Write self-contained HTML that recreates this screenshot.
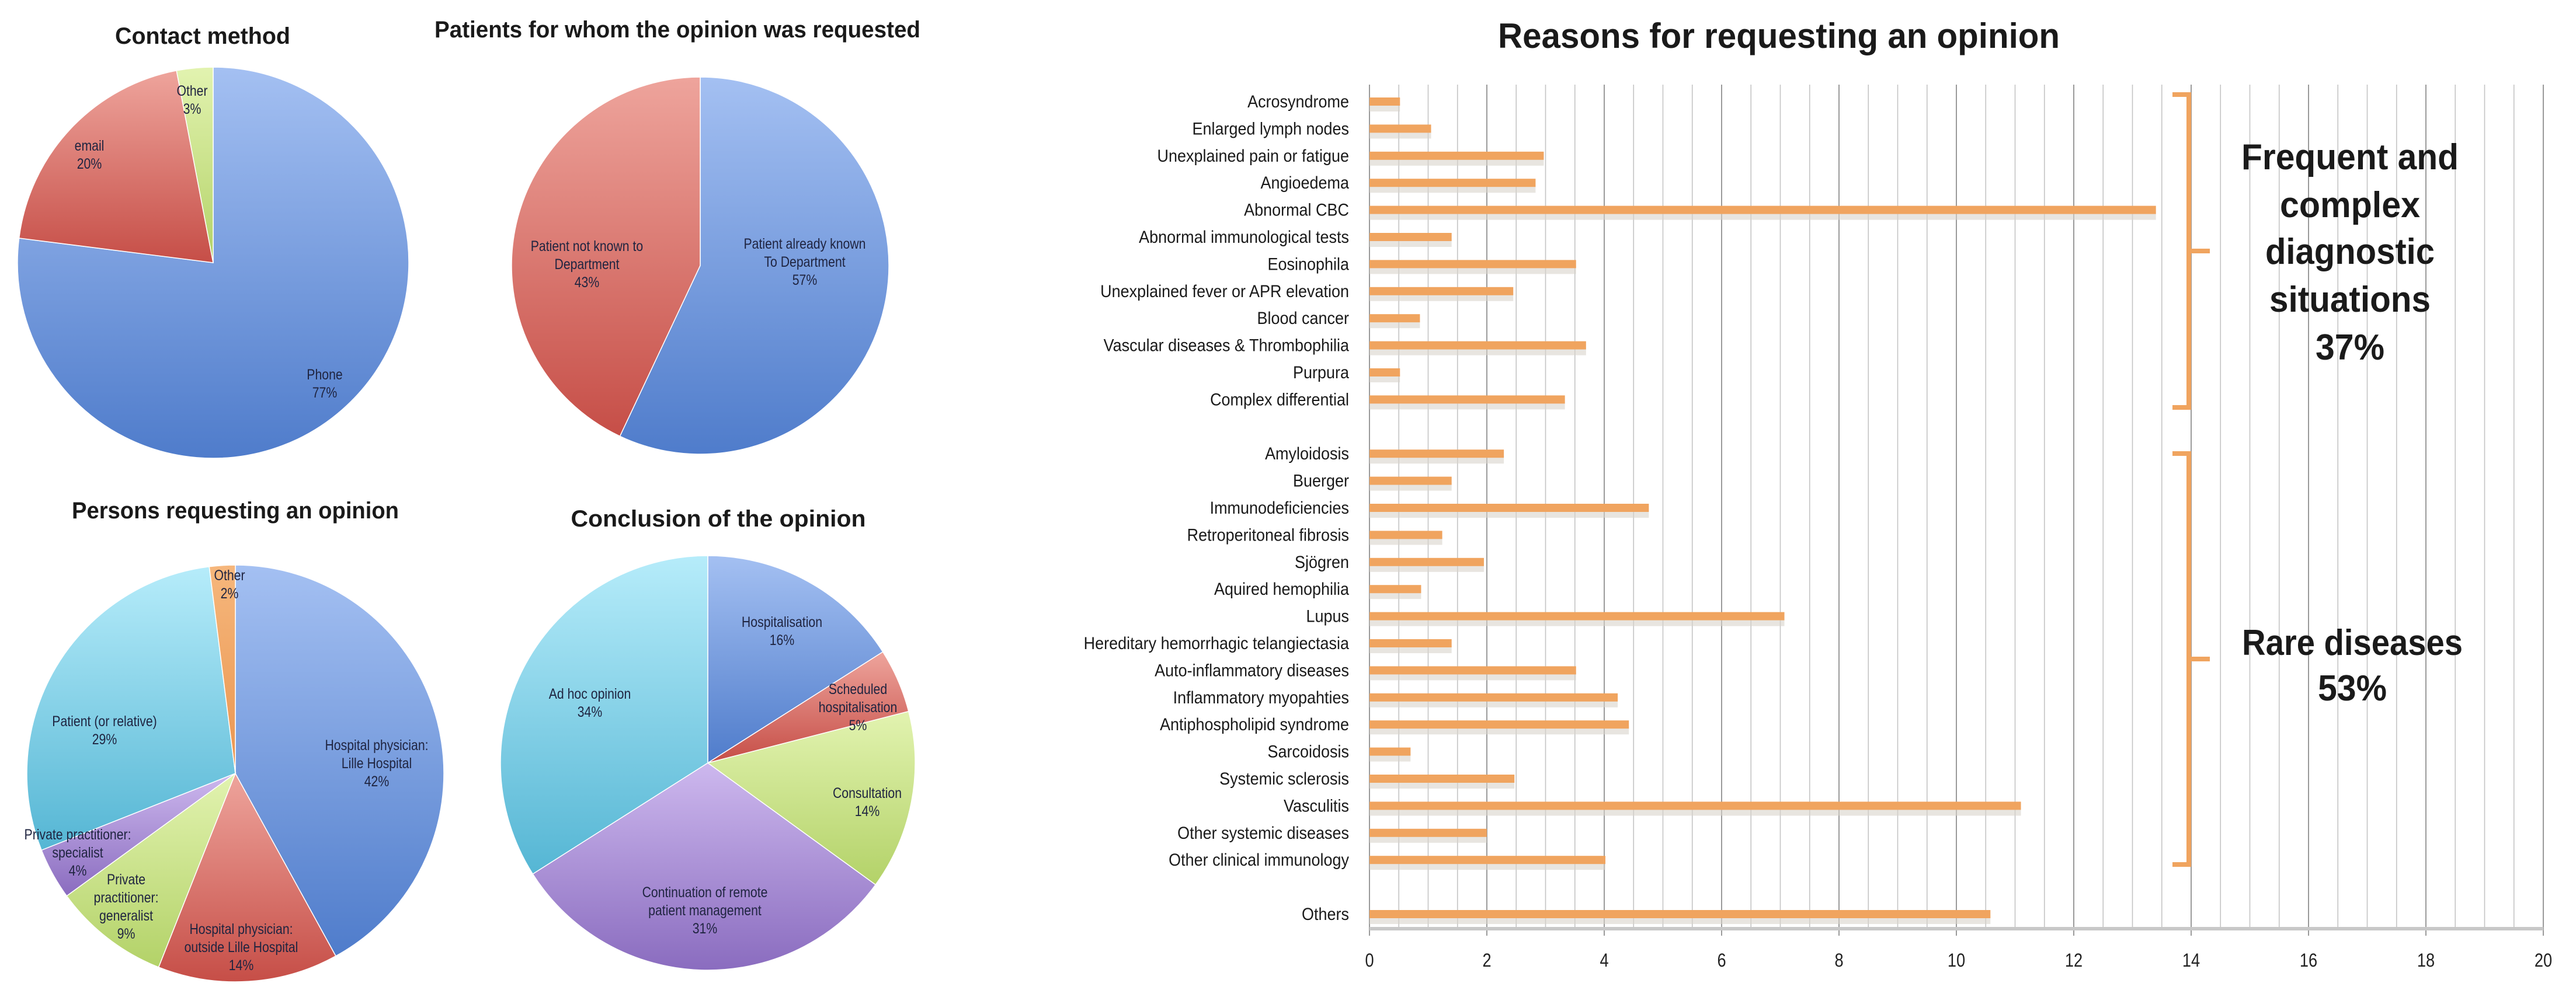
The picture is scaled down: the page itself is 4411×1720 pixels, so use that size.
<!DOCTYPE html>
<html><head><meta charset="utf-8"><style>
html,body{margin:0;padding:0;background:#fff;}
svg{display:block;font-family:"Liberation Sans",sans-serif;}
</style></head><body>
<svg id="fig" width="4411" height="1720" viewBox="0 0 4411 1720" xmlns="http://www.w3.org/2000/svg">
<defs>
<linearGradient id="gBlue" x1="0" y1="0" x2="0" y2="1"><stop offset="0" stop-color="#a4c0f2"/><stop offset="1" stop-color="#4f7ccb"/></linearGradient>
<linearGradient id="gRed" x1="0" y1="0" x2="0" y2="1"><stop offset="0" stop-color="#eea49c"/><stop offset="1" stop-color="#c64e47"/></linearGradient>
<linearGradient id="gGreen" x1="0" y1="0" x2="0" y2="1"><stop offset="0" stop-color="#e2f3b0"/><stop offset="1" stop-color="#b3d268"/></linearGradient>
<linearGradient id="gPurple" x1="0" y1="0" x2="0" y2="1"><stop offset="0" stop-color="#cdb8ee"/><stop offset="1" stop-color="#8a6cbf"/></linearGradient>
<linearGradient id="gCyan" x1="0" y1="0" x2="0" y2="1"><stop offset="0" stop-color="#b6ecfa"/><stop offset="1" stop-color="#55b6d4"/></linearGradient>
<linearGradient id="gOrange" x1="0" y1="0" x2="0" y2="1"><stop offset="0" stop-color="#f6b77c"/><stop offset="1" stop-color="#ea9550"/></linearGradient>
</defs>
<g id="pies"></g>
<g id="bars"></g>
</svg>
<script>
// ---------- Pie data ----------
const contactLabels = ["Phone", "email", "Other"];
const contactValues = [77, 20, 3];
const knownLabels = ["Patient already known To Department", "Patient not known to Department"];
const knownValues = [57, 43];
const personLabels = ["Hospital physician: Lille Hospital", "Hospital physician: outside Lille Hospital", "Private practitioner: generalist", "Private practitioner: specialist", "Patient (or relative)", "Other"];
const personValues = [42, 14, 9, 4, 29, 2];
const conclusionLabels = ["Hospitalisation", "Scheduled hospitalisation", "Consultation", "Continuation of remote patient management", "Ad hoc opinion"];
const conclusionValues = [16, 5, 14, 31, 34];

// ---------- Bar data ----------
const reasonCategories = ["Acrosyndrome","Enlarged lymph nodes","Unexplained pain or fatigue","Angioedema","Abnormal CBC","Abnormal immunological tests","Eosinophila","Unexplained fever or APR elevation","Blood cancer","Vascular diseases & Thrombophilia","Purpura","Complex differential","","Amyloidosis","Buerger","Immunodeficiencies","Retroperitoneal fibrosis","Sjögren","Aquired hemophilia","Lupus","Hereditary hemorrhagic telangiectasia","Auto-inflammatory diseases","Inflammatory myopahties","Antiphospholipid syndrome","Sarcoidosis","Systemic sclerosis","Vasculitis","Other systemic diseases","Other clinical immunology","","Others"];
const reasonValues = [0.52,1.05,2.97,2.83,13.4,1.4,3.52,2.45,0.86,3.69,0.52,3.33,null,2.29,1.4,4.76,1.24,1.95,0.88,7.07,1.4,3.52,4.23,4.42,0.7,2.47,11.1,2.0,4.02,null,10.58];
const xTicks = [0,2,4,6,8,10,12,14,16,18,20];

const NS = "http://www.w3.org/2000/svg";
function mk(tag, attrs, parent){const e=document.createElementNS(NS,tag);for(const k in attrs)e.setAttribute(k,attrs[k]);parent.appendChild(e);return e;}
function txt(parent,x,y,s,size,opts){
  opts=opts||{};
  const t=mk("text",{x:x,y:y,"font-size":size,"text-anchor":opts.anchor||"middle",fill:opts.fill||"#1a1a1a","font-weight":opts.bold?"bold":"normal"},parent);
  if(opts.len){t.setAttribute("textLength",opts.len);t.setAttribute("lengthAdjust","spacingAndGlyphs");}
  t.textContent=s;return t;
}

const pies=document.getElementById("pies");
function drawPie(name,cx,cy,r,values,fills){
  const g=mk("g",{},pies);
  
  
  const total=values.reduce((a,b)=>a+b,0);
  let a0=-Math.PI/2;
  values.forEach((v,i)=>{
    const a1=a0+v/total*2*Math.PI;
    const large=(a1-a0)>Math.PI?1:0;
    const x0=cx+r*Math.cos(a0),y0=cy+r*Math.sin(a0),x1=cx+r*Math.cos(a1),y1=cy+r*Math.sin(a1);
    const p=mk("path",{d:`M${cx},${cy} L${x0},${y0} A${r},${r} 0 ${large} 1 ${x1},${y1} Z`,fill:fills[i],stroke:"#fff","stroke-width":1.5},g);
    
    
    a0=a1;
  });
  return g;
}
function lbl(parent,name,x,y,lines,size){
  const g=mk("g",{},parent);
  
  
  lines.forEach((s,i)=>{
    const t=mk("text",{x:0,y:0,"font-size":size||25,"text-anchor":"middle",fill:"#1f2440",transform:`translate(${x},${y+i*31}) scale(0.85,1)`},g);
    t.textContent=s;
  });
}
function title(name,x,y,s,len,size){
  const t=txt(pies,x,y,s,size||40,{bold:true,len:len});
  
  
}

// Pie 1
title("contact-method-title",347,75,"Contact method",300);
drawPie("contact-method-pie",365,450,335,contactValues,["url(#gBlue)","url(#gRed)","url(#gGreen)"]);
lbl(pies,"label-phone",556,650,["Phone",contactValues[0]+"%"]);
lbl(pies,"label-email",153,258,["email",contactValues[1]+"%"]);
lbl(pies,"label-contact-other",329,164,["Other",contactValues[2]+"%"]);
// Pie 2
title("patients-title",1160,64,"Patients for whom the opinion was requested",832);
drawPie("patient-known-pie",1199,455,323,knownValues,["url(#gBlue)","url(#gRed)"]);
lbl(pies,"label-known",1378,426,["Patient already known","To Department",knownValues[0]+"%"]);
lbl(pies,"label-not-known",1005,430,["Patient not known to","Department",knownValues[1]+"%"]);
// Pie 3
title("persons-title",403,888,"Persons requesting an opinion",560);
drawPie("persons-pie",403,1325,357,personValues,["url(#gBlue)","url(#gRed)","url(#gGreen)","url(#gPurple)","url(#gCyan)","url(#gOrange)"]);
lbl(pies,"label-lille",645,1285,["Hospital physician:","Lille Hospital",personValues[0]+"%"]);
lbl(pies,"label-outside",413,1600,["Hospital physician:","outside Lille Hospital",personValues[1]+"%"]);
lbl(pies,"label-generalist",216,1515,["Private","practitioner:","generalist",personValues[2]+"%"]);
lbl(pies,"label-specialist",133,1438,["Private practitioner:","specialist",personValues[3]+"%"]);
lbl(pies,"label-patient",179,1244,["Patient (or relative)",personValues[4]+"%"]);
lbl(pies,"label-person-other",393,994,["Other",personValues[5]+"%"]);
// Pie 4
title("conclusion-title",1230,902,"Conclusion of the opinion",505);
drawPie("conclusion-pie",1212,1307,355,conclusionValues,["url(#gBlue)","url(#gRed)","url(#gGreen)","url(#gPurple)","url(#gCyan)"]);
lbl(pies,"label-hospitalisation",1339,1074,["Hospitalisation",conclusionValues[0]+"%"]);
lbl(pies,"label-scheduled",1469,1189,["Scheduled","hospitalisation",conclusionValues[1]+"%"]);
lbl(pies,"label-consultation",1485,1367,["Consultation",conclusionValues[2]+"%"]);
lbl(pies,"label-continuation",1207,1537,["Continuation of remote","patient management",conclusionValues[3]+"%"]);
lbl(pies,"label-adhoc",1010,1197,["Ad hoc opinion",conclusionValues[4]+"%"]);

// ---------- Bar chart ----------
const bars=document.getElementById("bars");
const X0=2345, X1=4355, XMAX=20, YTOP=145, YBOT=1591, ROW0=174, ROWH=46.4;
const xs=v=>X0+(v/XMAX)*(X1-X0);
const ys=i=>ROW0+i*ROWH;

const bt=txt(bars,3046,82,"Reasons for requesting an opinion",60,{bold:true,len:962});



const grid=mk("g",{},bars);


for(let v=0; v<=XMAX+1e-9; v+=0.5){
  const major=Math.abs(v-Math.round(v/2)*2)<1e-9;
  const l=mk("line",{x1:xs(v),x2:xs(v),y1:YTOP,y2:major?YBOT+12:YBOT,stroke:major?"#9a9a9a":"#c4c4c4","stroke-width":major?2:1.6},grid);
  
  
}
const ax=mk("line",{x1:X0,x2:X1,y1:YBOT,y2:YBOT,stroke:"#c8c8c8","stroke-width":6},bars);



xTicks.forEach(v=>{
  const t=mk("text",{x:0,y:0,"font-size":32,"text-anchor":"middle",fill:"#222",transform:`translate(${xs(v)},1656) scale(0.85,1)`},bars);
  
  
  t.textContent=v;
});

reasonCategories.forEach((c,i)=>{
  const v=reasonValues[i];
  if(c){
    const t=mk("text",{x:0,y:0,"font-size":30,"text-anchor":"end",fill:"#1a1a1a",transform:`translate(2310,${ys(i)+10}) scale(0.9,1)`},bars);
    
    
    t.textContent=c;
  }
  if(v!=null){
    const sh=mk("rect",{x:X0,y:ys(i)+3,width:xs(v)-X0,height:14,fill:"#d9d4cc",opacity:0.6},bars);
    
    
    const r=mk("rect",{x:X0,y:ys(i)-7,width:xs(v)-X0,height:14,fill:"#f0a45f"},bars);
    
    
  }
});

// brackets
function bracket(name,top,bot,mid){
  const p=mk("path",{d:`M3720,${top} L3748,${top} L3748,${bot} L3720,${bot} M3748,${mid} L3784,${mid}`,fill:"none",stroke:"#f0a45f","stroke-width":8},bars);
  
  
}
bracket("bracket-frequent",162,698,430);
bracket("bracket-rare",777,1481,1129);

const anno1=[["Frequent and",372],["complex",240],["diagnostic",290],["situations",276],["37%",118]];
const a1y=[290,372,452,534,616];
anno1.forEach((a,i)=>{const t=txt(bars,4024,a1y[i],a[0],62,{bold:true,len:a[1]});
  
  });
const anno2=[["Rare diseases",378],["53%",118]];
const a2y=[1122,1200];
anno2.forEach((a,i)=>{const t=txt(bars,4028,a2y[i],a[0],62,{bold:true,len:a[1]});
  
  });
</script>
</body></html>
